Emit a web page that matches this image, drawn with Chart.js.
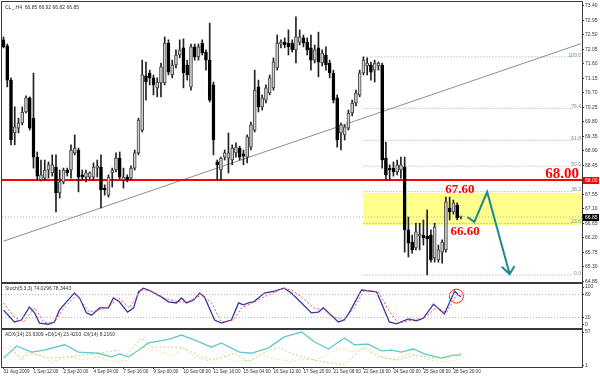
<!DOCTYPE html>
<html>
<head>
<meta charset="utf-8">
<script src="https://cdn.jsdelivr.net/npm/chart.js@4.4.1/dist/chart.umd.min.js"></script>
<style>
  html, body { margin: 0; padding: 0; background: #fff; }
  #wrap { position: relative; width: 600px; height: 376px; }
  canvas { position: absolute; left: 0; }
</style>
</head>
<body>
<div id="wrap">
  <canvas id="price" width="600" height="283" style="top:0"></canvas>
  <canvas id="stoch" width="600" height="46" style="top:283px"></canvas>
  <canvas id="adx" width="600" height="47" style="top:329px"></canvas>
</div>
<script>
// CL_ H4 candles (bar 0 = 31 Aug 2009)
const opens = [72.35,72.16,71.10,69.46,69.61,69.77,70.11,70.55,69.92,68.71,
  68.00,68.06,68.31,68.22,68.40,67.60,67.94,68.31,68.31,68.84,
  68.93,68.16,68.09,68.09,68.09,68.37,68.40,67.75,67.53,68.22,
  68.31,68.68,68.00,68.09,68.06,68.37,68.84,69.55,71.23,71.32,
  71.17,70.86,71.01,71.01,72.25,71.26,71.57,71.88,72.10,71.57,
  70.89,72.13,71.82,72.25,71.97,71.72,70.95,68.56,68.31,68.71,
  68.68,68.62,68.84,68.99,68.81,68.71,69.02,69.55,70.89,70.27,
  70.48,70.70,70.86,71.48,72.22,72.28,72.25,72.25,72.04,72.28,
  72.41,72.28,72.10,71.72,72.10,71.63,71.88,71.63,71.32,70.55,
  69.46,69.40,69.61,70.08,70.39,70.64,71.32,71.54,71.57,71.41,
  71.54,71.57,68.68,68.37,68.37,68.25,68.31,68.40,66.45,66.07,
  65.89,66.26,66.29,66.26,66.29,65.58,65.52,65.76,65.83,67.13,
  67.01,67.22,66.85];
const highs = [72.44,72.22,71.17,70.27,69.92,70.27,70.61,70.58,71.32,68.87,
  68.62,68.62,68.56,68.78,68.78,68.31,68.37,68.37,69.09,69.40,
  68.99,68.31,68.31,68.25,68.53,68.62,68.78,67.85,68.16,68.37,
  68.84,68.87,68.37,68.16,68.44,68.93,69.92,71.72,71.66,71.41,
  71.26,71.17,71.63,72.44,72.35,71.72,72.04,72.35,72.38,71.72,
  72.22,72.22,72.22,72.35,72.04,72.87,71.04,68.62,68.71,68.93,
  69.46,69.09,69.15,69.05,68.93,69.40,69.80,71.41,71.10,70.64,
  70.95,71.26,71.79,72.50,72.35,72.41,72.66,72.35,73.06,72.66,
  72.50,72.41,72.50,72.19,72.59,72.04,72.13,71.72,71.41,70.64,
  69.77,69.71,70.17,70.48,70.79,71.41,71.82,71.79,71.66,71.72,
  71.66,71.63,69.18,68.47,68.56,68.62,68.71,68.71,66.85,66.29,
  66.66,66.66,66.76,67.07,66.45,66.66,65.98,66.14,67.47,67.47,
  67.38,67.29,66.88];
const lows = [72.10,70.89,69.09,69.09,69.46,69.71,70.08,69.55,68.37,68.00,
  67.97,68.00,68.06,68.12,67.01,67.44,67.88,68.12,68.06,68.78,
  67.63,68.00,67.94,68.03,68.00,68.09,67.13,67.53,67.47,67.78,
  68.25,68.03,67.75,67.94,68.00,68.31,68.78,69.49,70.48,70.95,
  70.64,70.58,70.58,70.95,71.26,71.17,71.48,71.79,70.86,71.10,
  70.79,71.72,71.72,71.88,71.41,70.42,68.78,68.00,68.00,68.62,
  68.22,68.47,68.71,68.62,68.47,68.53,68.93,69.49,70.11,70.17,
  70.39,70.64,70.79,71.41,72.10,72.10,71.88,71.97,71.63,72.19,
  72.13,71.88,71.41,71.63,71.20,71.54,71.41,71.17,70.39,69.02,
  68.93,69.24,69.55,69.99,70.30,70.58,71.26,71.26,71.10,71.04,
  71.41,68.37,68.00,68.00,68.12,68.16,68.06,65.76,65.61,65.73,
  65.83,65.83,65.98,65.05,65.45,65.45,65.45,65.42,65.76,66.76,
  66.94,66.76,66.79];
const closes = [72.13,71.10,69.24,69.65,69.77,70.11,70.55,69.61,68.71,68.12,
  68.16,68.31,68.47,68.47,67.60,67.94,68.31,68.22,68.93,68.99,
  68.09,68.09,68.22,68.22,68.40,68.44,67.69,67.69,68.09,68.31,
  68.68,68.09,68.09,68.00,68.37,68.84,69.86,71.26,71.04,71.17,
  70.95,71.04,71.51,72.25,71.35,71.57,71.88,72.04,71.32,71.26,
  72.13,71.82,72.13,71.94,71.72,70.48,69.24,68.47,68.68,68.84,
  68.84,68.99,69.02,68.71,68.74,69.34,69.71,70.79,70.27,70.55,
  70.86,71.17,71.66,72.25,72.28,72.19,72.13,72.04,72.44,72.44,
  72.25,72.04,71.72,72.04,71.66,71.94,71.57,71.32,70.48,69.24,
  69.71,69.65,70.08,70.39,70.70,71.32,71.72,71.63,71.35,71.63,
  71.63,68.62,68.16,68.31,68.25,68.47,68.47,66.45,66.04,65.83,
  66.39,66.32,66.20,66.17,65.52,66.54,65.83,66.07,67.32,67.01,
  67.29,66.82,66.85];

const timeLabels = ['31 Aug 2009', '1 Sep 12:00', '2 Sep 20:00', '4 Sep 04:00', '7 Sep 16:00',
  '9 Sep 00:00', '10 Sep 08:00', '11 Sep 16:00', '15 Sep 04:00', '16 Sep 12:00', '17 Sep 20:00',
  '21 Sep 08:00', '22 Sep 16:00', '24 Sep 00:00', '25 Sep 08:00', '28 Sep 20:00'];
const priceTicks = [64.85, 65.30, 65.75, 66.20, 66.65, 67.10, 67.55, 68.00, 68.45, 68.90,
  69.35, 69.80, 70.25, 70.70, 71.15, 71.60, 72.05, 72.50, 72.95, 73.40];

// drawing objects on the price panel
const fibLevels = ['0.0', '23.6', '38.2', '50.0', '61.8', '76.4', '100.0'];
const fibPrices = [65.05, 66.65, 67.64, 68.43, 69.23, 70.22, 71.82];
const fibBars = [96, 151.7];
const trendLine = [[0, 66.10], [154, 72.23]];
const keyLevel = 68.00;
const lastPrice = 66.85;
const zone = [66.60, 67.60];
const forecastPath = [[123.7, 66.85], [125.6, 66.70], [129, 67.63], [135, 65.08]];
const arrowHead = [[132.9, 65.31], [135, 65.08], [136.3, 65.33]];

// Stochastic(5,3,3): [bar, value]
const stochMain = [[0,39],[2.9,8],[4.8,13],[6.9,47],[8.3,32],[9.6,5],[12,2],[13.6,8],[14.9,39],[16.8,61],
  [18.9,84],[20.3,71],[22.1,32],[23.5,26],[25.6,45],[28,45],[29.3,71],[30.9,61],[33.1,34],[34.7,45],
  [36,87],[37.3,97],[38.7,92],[42.1,74],[44,61],[46.1,58],[47.5,71],[48.8,58],[50.7,66],[52.3,84],
  [53.6,74],[54.9,45],[56.3,13],[58.1,5],[60.8,13],[62.7,58],[64,53],[65.3,58],[66.7,61],[69.6,84],
  [72.3,89],[74.9,97],[76.8,84],[79.5,58],[82.1,32],[84,34],[85.3,45],[86.7,32],[89.3,8],[90.9,13],
  [92.3,34],[95.5,92],[99.5,87],[100.8,58],[102.9,8],[104.8,3],[108,16],[110.1,11],[112,18],[114.7,55],
  [117.6,29],[120.3,89],[122,74]];
const stochSignal = [[0,58],[2.9,21],[5.3,8],[8.3,45],[10.7,8],[13.3,5],[16.3,47],[19.5,79],[22.9,34],[25.3,39],
  [28,47],[30.7,71],[33.6,45],[36.8,92],[38.9,92],[42.9,71],[46.7,61],[49.3,61],[52.8,79],[55.5,58],
  [58.1,8],[61.3,13],[63.5,45],[66.9,61],[70.7,79],[74.7,97],[76.8,92],[79.5,74],[82.7,45],[85.6,39],
  [88.3,21],[90.9,13],[93.6,47],[96.3,92],[100,87],[102.7,39],[105.3,5],[108.8,13],[112.3,18],[115.5,47],
  [118.1,32],[120.8,79],[122,78]];
const stochLevels = [20, 80];
const stochMark = [120.8, 76];

// ADX(14)
const adxLine = [[0,14],[3.5,34],[7.5,24],[10.9,27],[16.3,36],[20,24],[25.3,22],[28.8,16],[30.9,21],[33.3,16],
  [36,27],[38.7,39],[44,45],[47.5,52],[50.9,44],[55.5,32],[58.1,39],[62.9,24],[66.1,22],[70.7,31],
  [74.9,49],[79.5,57],[82.9,41],[86.7,29],[90.9,47],[93.6,36],[97.3,37],[100.8,26],[103.5,27],[106.1,24],
  [109.3,29],[112.3,21],[116.8,14],[120,19],[122,19]];
const plusDI = [[1.6,34],[4.8,11],[6.7,24],[12,14],[17.3,16],[25.3,22],[30.7,27],[32.3,16],[36.8,47],[39.5,32],
  [47.5,32],[52.8,16],[56.3,11],[61.6,22],[65.3,8],[70.7,27],[73.3,32],[76.8,22],[79.5,16],[84.8,8],
  [90.9,3],[92.8,14],[96,32],[100,16],[105.3,11],[109.6,19],[113.3,16],[117.6,13],[120.3,19],[122,22]];
const minusDI = [[0.3,32],[4.8,16],[8.3,22],[12.8,8],[17.6,16],[21.6,11],[25.3,17],[28.8,8],[33.3,11],[36.8,32],
  [40.3,27],[45.6,17],[47.5,32],[50.9,16],[55.5,8],[58.1,22],[61.6,8],[66.1,11],[68.8,19],[72.3,13],
  [76.8,8],[79.5,12],[82.9,11],[85.6,16],[89.3,30],[93.6,24],[97.3,32],[100.8,16],[104.3,11],[108,22],
  [111.5,16],[114.9,9],[118.7,8],[122,13]];

const X_MIN = -0.4, X_MAX = 154.3;
const tinyFont = { family: 'Liberation Sans', size: 5 };
const dateFont = { family: 'Liberation Sans', size: 4.6 };
const axisInk = '#333';
const pts = arr => arr.map(p => ({ x: p[0], y: p[1] }));

function xAxis(show) {
  return {
    type: 'linear', min: X_MIN, max: X_MAX, offset: false, display: show,
    afterBuildTicks: s => { s.ticks = timeLabels.map((_, k) => ({ value: k * 8 })); },
    afterFit: s => { s.height = show ? 9 : 0; s.paddingLeft = 0; s.paddingRight = 0; },
    grid: { offset: false, drawOnChartArea: false, tickLength: 2, color: axisInk },
    border: { display: false },
    ticks: { align: 'start', padding: 0, maxRotation: 0, autoSkip: false, font: dateFont, color: axisInk,
      callback: v => timeLabels[Math.round(v / 8)] }
  };
}
function yAxis(min, max, ticks, fmt) {
  return {
    position: 'right', min, max,
    afterBuildTicks: s => { s.ticks = ticks.map(v => ({ value: v })); },
    afterFit: s => { s.width = 18; s.paddingTop = 0; s.paddingBottom = 0; },
    grid: { drawOnChartArea: false, tickLength: 2, color: axisInk },
    border: { color: axisInk },
    ticks: { padding: 1, font: tinyFont, color: axisInk, callback: fmt }
  };
}

const panelFrame = {
  id: 'panelFrame',
  afterDraw(chart) {
    const { ctx, chartArea: a } = chart;
    ctx.save();
    ctx.strokeStyle = '#3a3a3a';
    ctx.lineWidth = 1;
    ctx.strokeRect(a.left - 0.5, a.top - 0.5, a.right - a.left + 1, a.bottom - a.top + 1);
    ctx.restore();
  }
};
function caption(text) {
  return {
    id: 'caption',
    afterDraw(chart) {
      const { ctx, chartArea: a } = chart;
      ctx.save();
      ctx.font = '5px "Liberation Sans"';
      ctx.fillStyle = '#333';
      ctx.textBaseline = 'top';
      ctx.fillText(text, a.left + 3, a.top + 2);
      ctx.restore();
    }
  };
}
const baseOptions = {
  responsive: false, animation: false, devicePixelRatio: 1,
  plugins: { legend: { display: false }, tooltip: { enabled: false } }
};

// price panel extras: yellow zone, fib captions, red labels, axis badges
const priceExtras = {
  id: 'priceExtras',
  beforeDatasetsDraw(chart) {
    const { ctx, chartArea: a, scales: { x, y } } = chart;
    ctx.save();
    ctx.fillStyle = '#ffff8c';
    const top = y.getPixelForValue(zone[1]);
    const left = x.getPixelForValue(fibBars[0]);
    ctx.fillRect(left, top, a.right - left, y.getPixelForValue(zone[0]) - top);
    ctx.restore();
  },
  afterDatasetsDraw(chart) {
    const { ctx, chartArea: a, scales: { x, y } } = chart;
    ctx.save();
    ctx.font = '5px "Liberation Sans"';
    ctx.fillStyle = '#6f8ea0';
    ctx.textAlign = 'right';
    ctx.textBaseline = 'bottom';
    fibLevels.forEach((t, k) => ctx.fillText(t, a.right - 1, y.getPixelForValue(fibPrices[k]) + 1));

    ctx.fillStyle = '#ff0000';
    ctx.font = 'bold 15px "Liberation Serif"';
    ctx.textBaseline = 'alphabetic';
    ctx.fillText(keyLevel.toFixed(2), a.right - 3, y.getPixelForValue(keyLevel) - 2);
    ctx.font = 'bold 13px "Liberation Serif"';
    ctx.textAlign = 'left';
    ctx.fillText(zone[1].toFixed(2), x.getPixelForValue(117.8), y.getPixelForValue(zone[1]));
    ctx.fillText(zone[0].toFixed(2), x.getPixelForValue(119.2), y.getPixelForValue(zone[0]) + 10);

    ctx.font = '5px "Liberation Sans"';
    ctx.fillStyle = '#333';
    ctx.textBaseline = 'top';
    ctx.fillText('CL_,H4  66.85 66.92 66.82 66.85', a.left + 3, a.top + 3);
    ctx.restore();
  },
  afterDraw(chart) {
    const { ctx, chartArea: a, scales: { y } } = chart;
    ctx.save();
    ctx.font = '5px "Liberation Sans"';
    ctx.textBaseline = 'middle';
    ctx.textAlign = 'left';
    [[keyLevel, '#ff0000'], [lastPrice, '#000000']].forEach(([v, c]) => {
      const py = Math.round(y.getPixelForValue(v));
      ctx.fillStyle = c;
      ctx.fillRect(a.right + 1, py - 3, 16, 7);
      ctx.fillStyle = '#fff';
      ctx.fillText(v.toFixed(2), a.right + 3, py + 0.5);
    });
    ctx.restore();
  }
};

const bull = opens.map((o, i) => closes[i] >= o);
const flatLine = (v, from, to) => [{ x: from, y: v }, { x: to, y: v }];

new Chart(document.getElementById('price'), {
  type: 'bar',
  data: {
    datasets: [
      { type: 'line', data: pts(forecastPath), borderColor: '#1f8a8c', borderWidth: 2, pointRadius: 0, order: -2 },
      { type: 'line', data: pts(arrowHead), borderColor: '#1f8a8c', borderWidth: 2, pointRadius: 0, order: -2 },
      {
        data: opens.map((o, i) => ({ x: i, y: [o, closes[i]] })),
        backgroundColor: bull.map(b => b ? '#d0d0d0' : '#000'),
        borderColor: bull.map(b => b ? '#444' : '#000'),
        borderWidth: 1, borderSkipped: false, barThickness: 3, minBarLength: 1, grouped: false, order: 0
      },
      {
        data: lows.map((l, i) => ({ x: i, y: [l, highs[i]] })),
        backgroundColor: '#222', barThickness: 1, grouped: false, order: 1
      },
      { type: 'line', data: pts(trendLine), borderColor: '#8e8e8e', borderWidth: 1, pointRadius: 0, order: 3 },
      { type: 'line', data: flatLine(keyLevel, X_MIN, X_MAX), borderColor: '#ff0000', borderWidth: 2, pointRadius: 0, order: 2 },
      { type: 'line', data: flatLine(lastPrice, X_MIN, X_MAX), borderColor: '#b0b0b0', borderWidth: 1, borderDash: [1, 2], pointRadius: 0, order: 4 },
      ...fibPrices.map(p => ({
        type: 'line', data: flatLine(p, fibBars[0], fibBars[1]), borderColor: '#8ca6b6', borderWidth: 1,
        borderDash: [1, 2], pointRadius: 0, order: 4
      }))
    ]
  },
  options: {
    ...baseOptions,
    layout: { autoPadding: false, padding: { left: 2, top: 2, right: 0, bottom: 1 } },
    scales: {
      x: xAxis(false),
      y: yAxis(64.834, 73.524, priceTicks, v => v.toFixed(2))
    }
  },
  plugins: [priceExtras, panelFrame]
});

new Chart(document.getElementById('stoch'), {
  type: 'line',
  data: {
    datasets: [
      ...stochLevels.map(v => ({ data: flatLine(v, X_MIN, X_MAX), borderColor: '#b4b4b4', borderWidth: 1, borderDash: [1, 2], pointRadius: 0 })),
      { data: pts(stochSignal), borderColor: '#ff4a4a', borderWidth: 1, borderDash: [2, 2], pointRadius: 0 },
      { data: pts(stochMain), borderColor: '#3535a5', borderWidth: 1.3, pointRadius: 0 },
      { data: [{ x: stochMark[0], y: stochMark[1] }], showLine: false, pointRadius: 7, pointBorderWidth: 1,
        pointBorderColor: '#ff2020', pointBackgroundColor: 'rgba(0,0,0,0)', clip: false }
    ]
  },
  options: {
    ...baseOptions,
    layout: { autoPadding: false, padding: { left: 2, top: 1, right: 0, bottom: 1 } },
    scales: {
      x: xAxis(false),
      y: yAxis(-7.9, 107.9, [0, 20, 80, 100], v => String(v))
    }
  },
  plugins: [caption('Stoch(5,3,3) 74.0296 78.3443'), panelFrame]
});

new Chart(document.getElementById('adx'), {
  type: 'line',
  data: {
    datasets: [
      { data: pts(minusDI), borderColor: '#f2dc9c', borderWidth: 1, borderDash: [2, 2], pointRadius: 0 },
      { data: pts(plusDI), borderColor: '#b4dc82', borderWidth: 1, borderDash: [2, 2], pointRadius: 0 },
      { data: pts(adxLine), borderColor: '#62c8cc', borderWidth: 1.3, pointRadius: 0 }
    ]
  },
  options: {
    ...baseOptions,
    layout: { autoPadding: false, padding: { left: 2, top: 1, right: 0, bottom: 0 } },
    scales: {
      x: xAxis(true),
      y: yAxis(-0.65, 60.3, [1, 57], v => String(v))
    }
  },
  plugins: [caption('ADX(14) 23.6309 +DI(14) 23.4203 -DI(14) 8.2160'), panelFrame]
});
</script>
</body>
</html>
